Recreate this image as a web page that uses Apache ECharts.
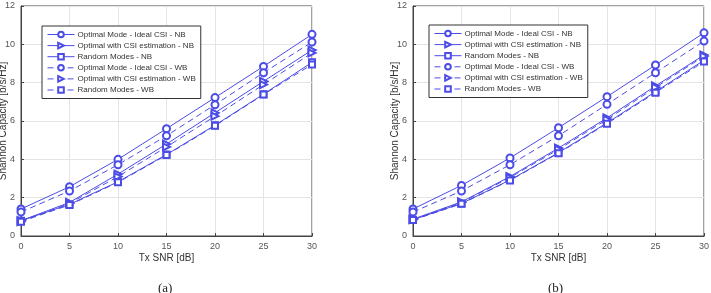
<!DOCTYPE html>
<html>
<head>
<meta charset="utf-8">
<script src="https://cdn.jsdelivr.net/npm/echarts@6/dist/echarts.min.js"></script>
<style>
  html, body { margin: 0; padding: 0; background: #fff; }
  #chart { width: 711px; height: 293px; }
</style>
</head>
<body>
<div id="chart"></div>
<script>
var snr = [0, 5, 10, 15, 20, 25, 30];
var seriesNames = [
  'Optimal Mode - Ideal CSI - NB',
  'Optimal with CSI estimation - NB',
  'Random Modes - NB',
  'Optimal Mode - Ideal CSI - WB',
  'Optimal with CSI estimation - WB',
  'Random Modes - WB'
];

// panel (a)
var aIdealNB = [1.41, 2.57, 4.0, 5.6, 7.22, 8.85, 10.52];
var aEstNB = [0.8, 1.75, 3.23, 4.8, 6.43, 8.07, 9.7];
var aRandNB = [0.8, 1.65, 2.83, 4.25, 5.78, 7.4, 9.06];
var aIdealWB = [1.25, 2.35, 3.72, 5.23, 6.85, 8.52, 10.12];
var aEstWB = [0.75, 1.7, 3.1, 4.65, 6.25, 7.9, 9.55];
var aRandWB = [0.75, 1.62, 2.8, 4.22, 5.75, 7.38, 8.95];

// panel (b)
var bIdealNB = [1.41, 2.64, 4.07, 5.65, 7.27, 8.92, 10.6];
var bEstNB = [0.88, 1.78, 3.1, 4.59, 6.16, 7.83, 9.44];
var bRandNB = [0.85, 1.7, 2.92, 4.35, 5.9, 7.53, 9.17];
var bIdealWB = [1.25, 2.35, 3.72, 5.23, 6.87, 8.52, 10.17];
var bEstWB = [0.85, 1.75, 3.05, 4.52, 6.08, 7.75, 9.38];
var bRandWB = [0.83, 1.68, 2.9, 4.32, 5.86, 7.48, 9.1];

var xTicks = [0, 5, 10, 15, 20, 25, 30];
var yTicks = [0, 2, 4, 6, 8, 10, 12];

var blue = '#4c4ce6';
var symbols = ['emptyCircle', 'emptyTriangle', 'emptyRect'];

const pairs = (ys) => snr.map((x, i) => [x, ys[i]]);

const makeSeries = (panel, data) => {
  return data.map((ys, k) => {
    const kind = k % 3;
    const dashed = k >= 3;
    return {
      name: seriesNames[k],
      type: 'line',
      xAxisIndex: panel,
      yAxisIndex: panel,
      data: pairs(ys),
      symbol: symbols[kind],
      symbolSize: kind === 2 ? 6 : 7,
      symbolRotate: kind === 1 ? -90 : 0,
      showAllSymbol: true,
      color: blue,
      lineStyle: { width: 1, color: blue, type: dashed ? [6, 4] : 'solid' },
      itemStyle: { color: blue, borderWidth: 1 },
      emphasis: { disabled: true },
      animation: false
    };
  });
};

const baseX = (grid) => ({
  type: 'value', gridIndex: grid, min: 0, max: 30, interval: 5,
  name: 'Tx SNR [dB]', nameLocation: 'middle', nameGap: 17, nameMoveOverlap: false,
  nameTextStyle: { fontSize: 10, color: '#333', fontFamily: 'Liberation Sans' },
  axisLine: { show: true, lineStyle: { color: '#444' } },
  axisTick: { show: true, inside: true, length: 3, lineStyle: { color: '#444' } },
  axisLabel: { fontSize: 9, color: '#555', margin: 6, fontFamily: 'Liberation Sans',
    formatter: (v) => xTicks.indexOf(v) >= 0 ? String(v) : '' },
  splitLine: { show: true, lineStyle: { color: '#e4e4e4' } }
});

const baseY = (grid, gap) => ({
  type: 'value', gridIndex: grid, min: 0, max: 12, interval: 2,
  name: 'Shannon Capacity [b/s/Hz]', nameLocation: 'middle', nameGap: gap, nameMoveOverlap: false,
  nameTextStyle: { fontSize: 10, color: '#333', fontFamily: 'Liberation Sans' },
  axisLine: { show: true, lineStyle: { color: '#444' } },
  axisTick: { show: true, inside: true, length: 3, lineStyle: { color: '#444' } },
  axisLabel: { fontSize: 9, color: '#555', margin: 6, fontFamily: 'Liberation Sans',
    formatter: (v) => yTicks.indexOf(v) >= 0 ? String(v) : '' },
  splitLine: { show: true, lineStyle: { color: '#e4e4e4' } }
});

const legendFor = (panel, left, top) => ({
  show: true,
  orient: 'vertical',
  left: left, top: top,
  data: seriesNames,
  itemWidth: 27, itemHeight: 7, itemGap: 2.1,
  padding: [4, 5, 4, 5],
  backgroundColor: '#fff',
  borderColor: '#333', borderWidth: 1, borderRadius: 0,
  itemStyle: { borderWidth: 1 },
  lineStyle: { width: 1 },
  textStyle: { fontSize: 8, lineHeight: 9, color: '#333', fontFamily: 'Liberation Sans', padding: [0, 0, 0, -2] },
  selectedMode: false
});

const getOptionChart = () => {
  const seriesA = makeSeries(0, [aIdealNB, aEstNB, aRandNB, aIdealWB, aEstWB, aRandWB]);
  const seriesB = makeSeries(1, [bIdealNB, bEstNB, bRandNB, bIdealWB, bEstWB, bRandWB]);
  return {
    backgroundColor: '#fff',
    animation: false,
    grid: [
      { left: 21, top: 6, width: 291, height: 230, show: true, borderColor: '#444', borderWidth: 1, outerBoundsMode: 'none', containLabel: false },
      { left: 413, top: 6, width: 291, height: 230, show: true, borderColor: '#444', borderWidth: 1, outerBoundsMode: 'none', containLabel: false }
    ],
    xAxis: [baseX(0), baseX(1)],
    yAxis: [baseY(0, 13), baseY(1, 13)],
    legend: [legendFor(0, 42, 26), legendFor(1, 429, 25)],
    series: seriesA.concat(seriesB),
    graphic: [
      { type: 'text', left: 158, top: 282, style: { text: '(a)', fontSize: 13, fill: '#222', fontFamily: 'Liberation Serif' } },
      { type: 'text', left: 548, top: 282, style: { text: '(b)', fontSize: 13, fill: '#222', fontFamily: 'Liberation Serif' } }
    ]
  };
};

const initCharts = () => {
  const chart = echarts.init(document.getElementById('chart'));
  chart.setOption(getOptionChart());
};

window.addEventListener('load', () => {
  initCharts();
});
</script>
</body>
</html>
